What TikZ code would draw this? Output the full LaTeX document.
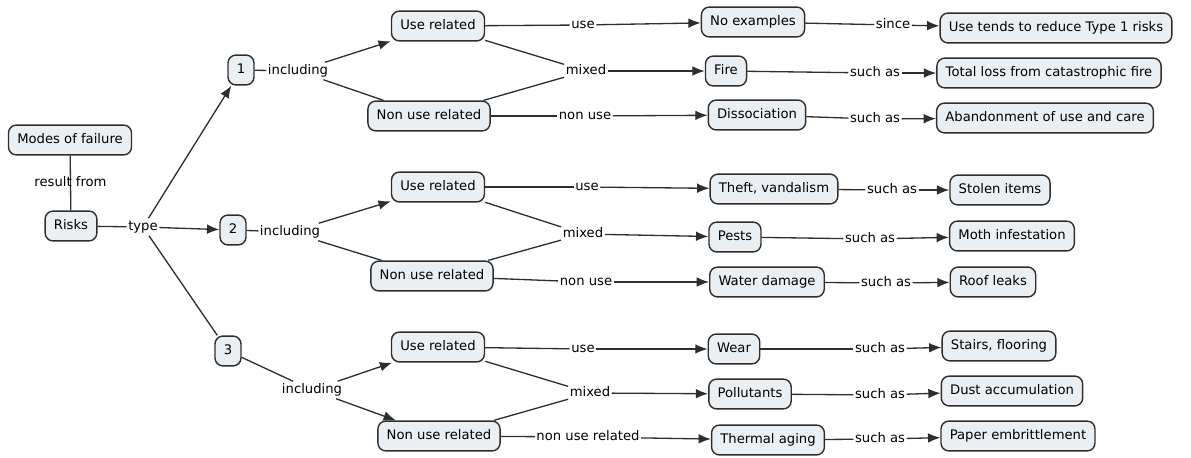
\documentclass[tikz,border=0pt]{standalone}
\usepackage{fontspec}
\setmainfont{DejaVu Sans}
\usetikzlibrary{arrows.meta}
\definecolor{boxfill}{HTML}{E9EFF2}
\definecolor{boxline}{HTML}{2E2E2E}
\tikzstyle{na}=[draw=boxline,fill=boxfill,rounded corners=4.5pt,line width=0.8pt,inner xsep=5pt,minimum height=17pt,text height=5.6pt,text depth=1.6pt,font=\fontsize{7.5}{9}\selectfont]
\tikzstyle{lb}=[inner xsep=0.6pt,inner ysep=1pt,text height=5.6pt,text depth=1.6pt,font=\fontsize{7.5}{9}\selectfont]

\begin{document}
\begin{tikzpicture}[
      x=0.02cm,y=-0.02cm,
      >={Latex[length=7pt,width=5.5pt]},
      line width=0.75pt,draw=boxline
    ]
     \useasboundingbox (0,0) rectangle (1191,457);

     \node [na] (n1) at (70,140) {Modes of failure};
     \node [na] (n2) at (71,226) {Risks};
     \node [na] (n3) at (241,70) {1};
     \node [na] (n4) at (233,230) {2};
     \node [na] (n5) at (228,351) {3};

     % type 1
     \node [na] (n6) at (438,26) {Use related};
     \node [na] (n7) at (429,116) {Non use related};
     \node [na] (n8) at (753,22) {No examples};
     \node [na] (n9) at (726,71) {Fire};
     \node [na] (n10) at (757,115) {Dissociation};
     \node [na] (n11) at (1056,28) {Use tends to reduce Type 1 risks};
     \node [na] (n12) at (1049,73) {Total loss from catastrophic fire};
     \node [na] (n13) at (1045,118) {Abandonment of use and care};

     % type 2
     \node [na] (n14) at (438,187) {Use related};
     \node [na] (n15) at (432,276) {Non use related};
     \node [na] (n16) at (774,189) {Theft, vandalism};
     \node [na] (n17) at (735,237) {Pests};
     \node [na] (n18) at (767,282) {Water damage};
     \node [na] (n19) at (1000,190) {Stolen items};
     \node [na] (n20) at (1012,236) {Moth infestation};
     \node [na] (n21) at (993,282) {Roof leaks};

     % type 3
     \node [na] (n22) at (438,347) {Use related};
     \node [na] (n23) at (439,436) {Non use related};
     \node [na] (n24) at (734,349) {Wear};
     \node [na] (n25) at (750,394) {Pollutants};
     \node [na] (n26) at (768,440) {Thermal aging};
     \node [na] (n27) at (999,346) {Stairs, flooring};
     \node [na] (n28) at (1012,391) {Dust accumulation};
     \node [na] (n29) at (1018,436) {Paper embrittlement};

     % linking words
     \node [lb] (l2) at (143,227) {type};
     \node [lb] (l3) at (298,71) {including};
     \node [lb] (l4) at (583,25) {use};
     \node [lb] (l5) at (586,71) {mixed};
     \node [lb] (l6) at (585,116) {non use};
     \node [lb] (l7) at (893,25) {since};
     \node [lb] (l8) at (875,73) {such as};
     \node [lb] (l9) at (875,119) {such as};
     \node [lb] (l10) at (290,232) {including};
     \node [lb] (l11) at (587,187) {use};
     \node [lb] (l12) at (583,234) {mixed};
     \node [lb] (l13) at (586,282) {non use};
     \node [lb] (l14) at (892,190) {such as};
     \node [lb] (l15) at (870,239) {such as};
     \node [lb] (l16) at (886,283) {such as};
     \node [lb] (l17) at (312,390) {including};
     \node [lb] (l18) at (583,349) {use};
     \node [lb] (l19) at (590,393) {mixed};
     \node [lb] (l20) at (588,437) {non use related};
     \node [lb] (l21) at (880,349) {such as};
     \node [lb] (l22) at (880,395) {such as};
     \node [lb] (l23) at (880,439) {such as};

      \draw (n1) -- node[lb] (l1) {result from} (n2);
      \draw (n2) -- (l2);
      \draw[->] (l2) -- (n3);
      \draw[->] (l2) -- (n4);
      \draw (l2) -- (n5);

      \draw (n3) -- (l3);
      \draw[->] (l3) -- (n6);
      \draw (l3) -- (n7);
      \draw (n6) -- (l4);
      \draw[->] (l4) -- (n8);
      \draw (n6) -- (l5);
      \draw (n7) -- (l5);
      \draw[->] (l5) -- (n9);
      \draw (n7) -- (l6);
      \draw[->] (l6) -- (n10);
      \draw (n8) -- (l7);
      \draw[->] (l7) -- (n11);
      \draw (n9) -- (l8);
      \draw[->] (l8) -- (n12);
      \draw (n10) -- (l9);
      \draw[->] (l9) -- (n13);

      \draw (n4) -- (l10);
      \draw[->] (l10) -- (n14);
      \draw (l10) -- (n15);
      \draw (n14) -- (l11);
      \draw[->] (l11) -- (n16);
      \draw (n14) -- (l12);
      \draw (n15) -- (l12);
      \draw[->] (l12) -- (n17);
      \draw (n15) -- (l13);
      \draw[->] (l13) -- (n18);
      \draw (n16) -- (l14);
      \draw[->] (l14) -- (n19);
      \draw (n17) -- (l15);
      \draw[->] (l15) -- (n20);
      \draw (n18) -- (l16);
      \draw[->] (l16) -- (n21);

      \draw (n5) -- (l17);
      \draw[->] (l17) -- (n22);
      \draw[->] (l17) -- (n23);
      \draw (n22) -- (l18);
      \draw[->] (l18) -- (n24);
      \draw (n22) -- (l19);
      \draw (n23) -- (l19);
      \draw[->] (l19) -- (n25);
      \draw (n23) -- (l20);
      \draw[->] (l20) -- (n26);
      \draw (n24) -- (l21);
      \draw[->] (l21) -- (n27);
      \draw (n25) -- (l22);
      \draw[->] (l22) -- (n28);
      \draw (n26) -- (l23);
      \draw[->] (l23) -- (n29);
    \end{tikzpicture}
\end{document}
